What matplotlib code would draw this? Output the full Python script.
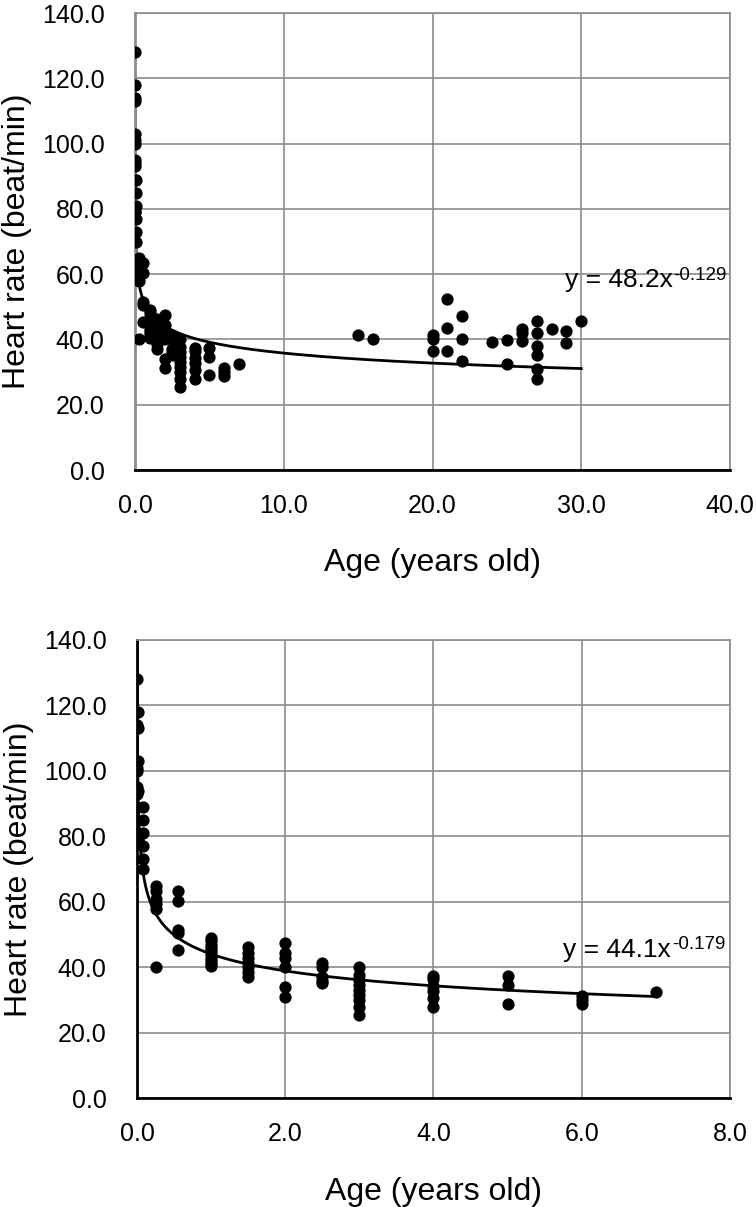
import numpy as np
import matplotlib
matplotlib.use("Agg")
import matplotlib.pyplot as plt

plt.rcParams['font.family'] = ['Liberation Sans', 'DejaVu Sans']

# calves / juveniles (0-7 years) -> used in both panels
age_young = [0.001] * 8 + [0.02] * 5 + [0.08] * 6 \
    + [0.25] * 6 + [0.55] * 5 + [1.0] * 10 + [1.5] * 7 + [2.0] * 6 \
    + [2.5] * 5 + [3.0] * 9 + [4.0] * 6 + [5.0] * 3 + [6.0] * 3 + [7.0]
hr_young = [128, 114, 101, 100, 95, 93, 89, 79,
            118, 113, 103, 94, 79,
            89, 85, 81, 77, 73, 70,
            65, 63.5, 61, 59.5, 58, 40,
            63.5, 60.3, 51.5, 50.4, 45.2,
            49, 48, 47, 46, 45, 44, 43, 42, 41, 40.5,
            46.4, 44.5, 43, 41.5, 40.2, 38.5, 37.2,
            47.4, 44.5, 43, 40.2, 34.1, 31.1,
            41.3, 40, 37.2, 36, 35.2,
            40.2, 37.7, 36.2, 34.7, 33.1, 31.6, 30.1, 28, 25.5,
            37.5, 36.5, 34.2, 32.8, 30.6, 28,
            37.3, 34.5, 29,
            31.4, 30, 28.7,
            32.6]

# adults (only in the upper panel)
age_adult = [15, 16, 20, 20, 20, 21, 21, 21, 22, 22, 22, 24, 25, 25,
             26, 26, 26, 27, 27, 27, 27, 27, 27, 28, 29, 29, 30]
hr_adult = [41.5, 40, 41.5, 40, 36.6, 52.3, 43.6, 36.5, 47.1, 40, 33.5, 39.1,
            39.8, 32.5, 43.2, 42, 39.6, 45.6, 41.9, 38.1, 35.2, 30.9, 27.8,
            43.1, 42.6, 38.8, 45.6]

# power trendlines (y = a * x^b) as printed on the chart
fit_all = (48.2, -0.129)
fit_young = (44.1, -0.179)

grid_c = '#8c8c8c'


def draw_panel(ax, x, y, fit, xmax, xstep, eq_xy, black_left):
    ax.plot(x, y, 'o', color='black', ms=7.8, zorder=3)
    xs = np.linspace(min(x), max(x), 3000)
    ax.plot(xs, fit[0] * xs ** fit[1], color='black', lw=2.0, zorder=2)
    ax.set_xlim(0, xmax)
    ax.set_ylim(0, 140)
    ax.set_xticks(np.arange(0, xmax + 0.001, xstep))
    ax.set_yticks(np.arange(0, 141, 20))
    ax.xaxis.set_major_formatter(matplotlib.ticker.FormatStrFormatter('%.1f'))
    ax.yaxis.set_major_formatter(matplotlib.ticker.FormatStrFormatter('%.1f'))
    ax.grid(True, color=grid_c, lw=1.2)
    ax.set_axisbelow(True)
    ax.tick_params(length=0, labelsize=18)
    ax.tick_params(axis='y', pad=22)
    ax.tick_params(axis='x', pad=17)
    for s in ['top', 'right']:
        ax.spines[s].set_color(grid_c)
        ax.spines[s].set_linewidth(1.2)
    ax.spines['bottom'].set_color('black')
    ax.spines['bottom'].set_linewidth(2.0)
    ax.spines['left'].set_color('black' if black_left else grid_c)
    ax.spines['left'].set_linewidth(2.0)
    ax.set_xlabel('Age (years old)', fontsize=23, labelpad=22)
    ax.set_ylabel('Heart rate (beat/min)', fontsize=23, labelpad=7)
    t = ax.text(eq_xy[0], eq_xy[1], 'y = %.1fx' % fit[0],
                fontsize=19, ha='left', va='baseline')
    ax.annotate('%.3f' % fit[1], xy=(1, 1), xycoords=t,
                xytext=(0.5, 1), textcoords='offset points',
                fontsize=13.5, ha='left', va='top')


fig = plt.figure(figsize=(7.56, 12.07), dpi=100)
ax1 = fig.add_axes([0.1786, 0.6106, 0.7870, 0.3786])
ax2 = fig.add_axes([0.1812, 0.0899, 0.7844, 0.3799])

draw_panel(ax1, age_young + age_adult, hr_young + hr_adult,
           fit_all, 40, 10, (28.9, 56), False)
draw_panel(ax2, age_young, hr_young,
           fit_young, 8, 2, (5.75, 43.3), True)

fig.savefig('out.png', dpi=100)
